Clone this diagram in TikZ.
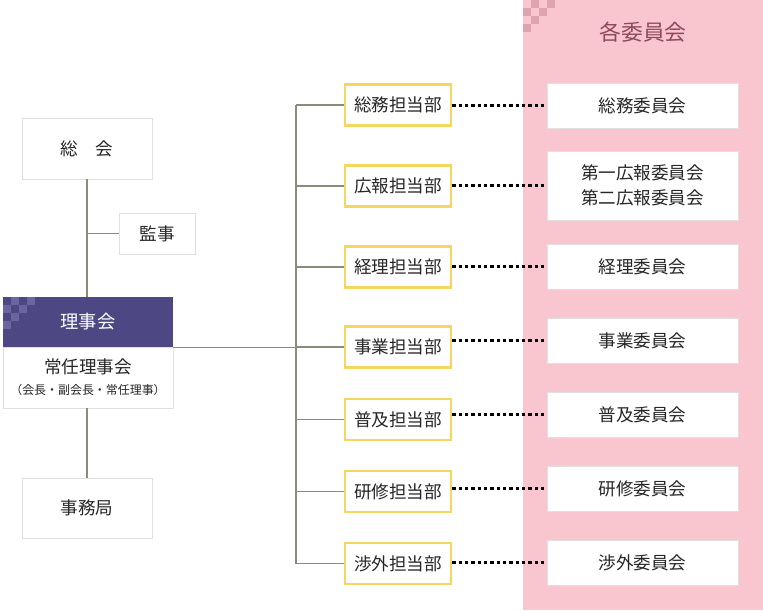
\documentclass[tikz,border=0pt]{standalone}
\usepackage{fontspec}
\setmainfont{Noto Sans CJK JP}
\usetikzlibrary{positioning,shadows}

\definecolor{bandpink}{HTML}{F9C6CF}
\definecolor{checkpink}{HTML}{DEA5B1}
\definecolor{titlerose}{HTML}{8E4A5C}
\definecolor{headpurple}{HTML}{4D4784}
\definecolor{checkpurple}{HTML}{6C66A0}
\definecolor{deptyellow}{HTML}{F5D65E}
\definecolor{linegray}{HTML}{8C8A78}
\definecolor{textgray}{HTML}{262626}

\tikzset{
  box/.style={draw=black!12, fill=white, text=textgray, inner sep=0pt,
    font=\fontsize{10}{14}\selectfont, align=center,
    drop shadow={opacity=0.18, shadow xshift=0.6pt, shadow yshift=-0.6pt}},
  dept/.style={box, draw=deptyellow, line width=1.5pt, minimum width=2.12cm, minimum height=0.82cm},
  comm/.style={box, minimum width=3.82cm, minimum height=0.9cm},
  branch/.style={draw=linegray, line width=0.6pt},
  link/.style={draw=black, line width=1.3pt, dash pattern=on 2pt off 1.6pt},
}

% small staircase of squares
\newcommand\checkers[3]{%
  \foreach \c/\r in {1/0,3/0,0/1,2/1,1/2,0/3}
    \fill[#3] ({#1+\c*8},{#2+\r*8}) rectangle ++(8,8);}

\begin{document}
\begin{tikzpicture}[x=0.02cm,y=-0.02cm]
\useasboundingbox (0,0) rectangle (763,610);

% committee band
\fill[bandpink] (523,0) rectangle (763,610);
\checkers{523}{0}{checkpink}
\node[text=titlerose, font=\fontsize{12.4}{14}\selectfont] (title) at (643,32) {各委員会};

% left column
\node[box, minimum width=2.6cm, minimum height=1.22cm] (sokai) at (87,148.5) {総　会};
\node[box, minimum width=1.52cm, minimum height=0.82cm] (kanji) at (157,233.5) {監事};
\node[box, minimum width=3.4cm, minimum height=1.22cm] (joninn) at (88,377.5)
  {常任理事会\\[-2pt]{\fontsize{6.8}{8}\selectfont （会長・副会長・常任理事）}};
\node[fill=headpurple, text=white, inner sep=0pt, minimum width=3.4cm, minimum height=1.0cm,
  font=\fontsize{10.4}{12}\selectfont] (rijikai) at (88,322) {理事会};
\checkers{3}{297}{checkpurple}
\node[box, minimum width=2.6cm, minimum height=1.2cm] (jimu) at (87,508) {事務局};

\draw[branch] (sokai.south) -- (sokai.south |- rijikai.north);
\draw[branch] (kanji.west) -- (kanji.west -| sokai.south);
\draw[branch] (sokai.south |- joninn.south) -- (jimu.north);

% departments
\node[dept] (d1) at (398,105) {総務担当部};
\node[dept] (d2) at (398,186) {広報担当部};
\node[dept] (d3) at (398,267) {経理担当部};
\node[dept] (d4) at (398,347) {事業担当部};
\node[dept] (d5) at (398,419.5) {普及担当部};
\node[dept] (d6) at (398,491.5) {研修担当部};
\node[dept] (d7) at (398,563.5) {渉外担当部};

\coordinate (tt) at (296,105);
\coordinate (tb) at (296,563.5);
\draw[branch] (tt) -- (tb);
\draw[branch] (rijikai.south east) -- (rijikai.south east -| tt);
\foreach \i in {1,...,7}
  \draw[branch] (d\i.west) -- (d\i.west -| tt);

% committees
\node[comm] (c1) at (642.5,105.5) {総務委員会};
\node[comm, minimum height=1.38cm] (c2) at (642.5,185.5) {第一広報委員会\\第二広報委員会};
\node[comm] (c3) at (642.5,266.5) {経理委員会};
\node[comm] (c4) at (642.5,340.5) {事業委員会};
\node[comm] (c5) at (642.5,414.5) {普及委員会};
\node[comm] (c6) at (642.5,488.5) {研修委員会};
\node[comm] (c7) at (642.5,562.5) {渉外委員会};

\foreach \i in {1,...,7}
  \draw[link] (d\i.east |- c\i.west) -- (c\i.west);
\end{tikzpicture}
\end{document}
